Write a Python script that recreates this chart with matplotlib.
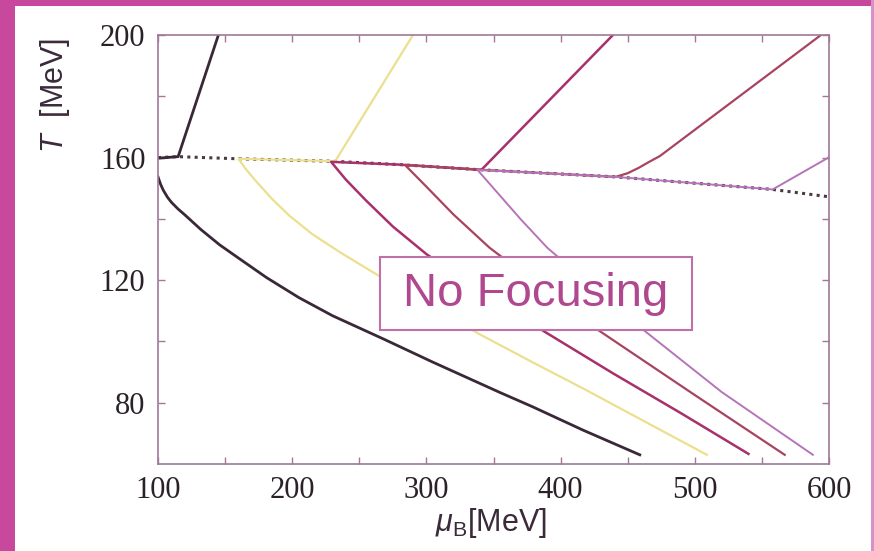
import matplotlib
matplotlib.use("Agg")
import matplotlib.pyplot as plt
from matplotlib.patches import Rectangle

# phase boundary (dotted)
BOUND_MU = [100, 115, 160, 230, 280, 341, 441, 558, 600]
BOUND_T = [160.0, 160.3, 159.6, 158.8, 157.7, 156.0, 153.7, 149.6, 147.2]

# trajectories, mu_B [MeV] / T [MeV]
DARK_UP_MU = [145, 115, 100]
DARK_UP_T = [200, 160.3, 159.8]
DARK_LO_MU = [100, 102, 104, 107, 110, 115, 120, 132, 146, 160, 181, 205, 230, 268, 305, 355, 379, 417, 459]
DARK_LO_T = [153.7, 151.2, 149.3, 147.1, 145.4, 143.2, 141.3, 136.5, 131.5, 127.2, 120.8, 114.3, 108.4, 100.8, 93.2, 83.3, 78.7, 71, 63]

YEL_MU = [290, 232, 160, 165, 172, 185, 198, 215, 236, 265, 300, 342, 380, 417, 460, 509]
YEL_T = [200, 158.8, 159.6, 156.5, 152.8, 146.5, 141, 135, 129, 121.3, 112, 101.8, 93, 84.6, 74.5, 63]

A_MU = [439, 341, 280, 229, 240, 255, 275, 300, 340, 385, 439, 490, 540]
A_T = [200, 156.0, 157.7, 158.6, 152.8, 146, 137.5, 128.5, 116.5, 104, 89.6, 76.5, 63.3]

B_MU = [594, 474, 466, 458, 450, 441, 341, 284, 300, 320, 347, 427, 500, 567]
B_T = [200, 160.5, 158.6, 156.6, 154.9, 153.7, 156.0, 157.6, 150.5, 141.5, 130.6, 104, 82.5, 63]

C_MU = [600, 558, 441, 338, 352, 370, 390, 461, 520, 588]
C_T = [160.1, 149.6, 153.7, 156.0, 149, 140, 130.6, 104, 83.5, 63]

DARK = "#3a2838"
YELLOW = "#ecdf8e"
COL_A = "#a8306c"
COL_B = "#a84460"
COL_C = "#b674b8"
FRAME = "#c8489e"
AXIS_COL = "#a07898"

plt.rcParams["mathtext.fontset"] = "custom"
plt.rcParams["mathtext.rm"] = "Liberation Sans"
plt.rcParams["mathtext.it"] = "Liberation Sans:italic"

fig = plt.figure(figsize=(8.74, 5.51), dpi=100)
fig.patch.set_facecolor("white")

# magenta page border from the photo
fig.add_artist(Rectangle((0, 0), 15 / 874, 1, transform=fig.transFigure,
                         facecolor=FRAME, edgecolor="none"))
fig.add_artist(Rectangle((0, 1 - 6 / 551), 1, 6 / 551, transform=fig.transFigure,
                         facecolor=FRAME, edgecolor="none"))
fig.add_artist(Rectangle((871 / 874, 0), 3 / 874, 1, transform=fig.transFigure,
                         facecolor="#d890c8", edgecolor="none"))

ax = fig.add_axes([158 / 874, 87 / 551, 671 / 874, 429 / 551])

ax.plot(BOUND_MU, BOUND_T, color="#4a3a48", linewidth=2.2, linestyle=(0, (1, 1.4)))
ax.plot(DARK_UP_MU, DARK_UP_T, color=DARK, linewidth=2)
ax.plot(DARK_LO_MU, DARK_LO_T, color=DARK, linewidth=2)
ax.plot(YEL_MU, YEL_T, color=YELLOW, linewidth=1.6)
ax.plot(A_MU, A_T, color=COL_A, linewidth=1.8)
ax.plot(B_MU, B_T, color=COL_B, linewidth=1.6)
ax.plot(C_MU, C_T, color=COL_C, linewidth=1.4)

ax.set_xlim(100, 600)
ax.set_ylim(60, 200)
ax.set_xticks([100, 200, 300, 400, 500, 600])
ax.set_xticks([150, 250, 350, 450, 550], minor=True)
ax.set_yticks([80, 120, 160, 200])
ax.set_yticks([100, 140, 180], minor=True)
ax.tick_params(which="both", direction="in", top=True, right=True,
               length=5, width=1, color=AXIS_COL, labelsize=22, pad=9)
for lab in ax.get_xticklabels() + ax.get_yticklabels():
    lab.set_fontfamily("Liberation Serif")
    lab.set_color("#2a2228")
for sp in ax.spines.values():
    sp.set_color(AXIS_COL)
    sp.set_linewidth(1.2)

# "No Focusing" box
ax.add_patch(Rectangle((0.331, 0.312), 0.465, 0.171, transform=ax.transAxes,
                       facecolor="white", edgecolor="#c070a8", linewidth=1.5, zorder=5))
ax.text(0.5635, 0.397, "No Focusing", transform=ax.transAxes, ha="center", va="center",
        fontsize=34, color="#b04890", family="Liberation Sans", zorder=6)

fig.text(491 / 874, 1 - 523 / 551, r"$\mu_{\mathrm{B}}$[MeV]", ha="center", va="center",
         fontsize=22, color="#3a2a3a", family="Liberation Sans")
fig.text(55 / 874, 1 - 95 / 551, r"$T$  [MeV]", ha="center", va="center", rotation=90,
         fontsize=22, color="#3a2a3a", family="Liberation Sans")

fig.savefig("out.png", dpi=100)
